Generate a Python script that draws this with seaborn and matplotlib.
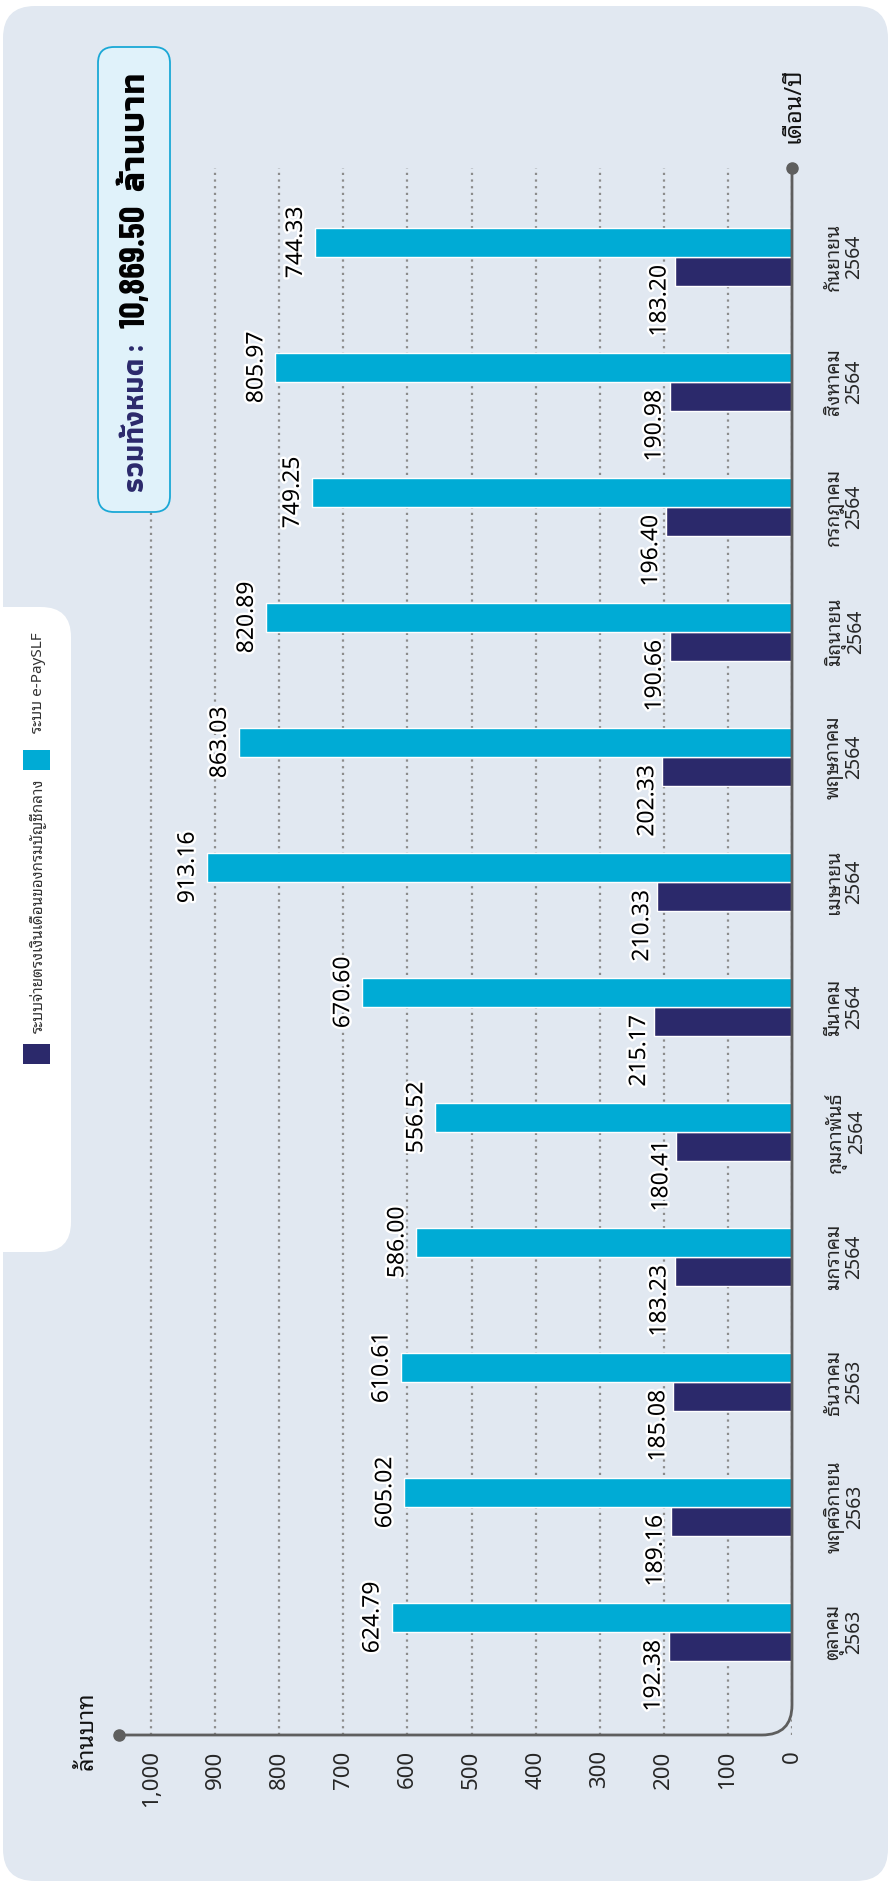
import matplotlib
matplotlib.use('Agg')
import matplotlib.pyplot as plt
import matplotlib.patheffects as pe
import pandas as pd
import seaborn as sns
from matplotlib import font_manager
from matplotlib.patches import FancyBboxPatch, Rectangle, PathPatch
from matplotlib.path import Path

# ข้อมูลรายเดือน (ล้านบาท)
months = ['ตุลาคม', 'พฤศจิกายน', 'ธันวาคม', 'มกราคม', 'กุมภาพันธ์', 'มีนาคม',
          'เมษายน', 'พฤษภาคม', 'มิถุนายน', 'กรกฎาคม', 'สิงหาคม', 'กันยายน']
years = ['2563', '2563', '2563', '2564', '2564', '2564',
         '2564', '2564', '2564', '2564', '2564', '2564']
series = ['ระบบจ่ายตรงเงินเดือนของกรมบัญชีกลาง', 'ระบบ e-PaySLF']
direct_pay = [192.38, 189.16, 185.08, 183.23, 180.41, 215.17,
              210.33, 202.33, 190.66, 196.40, 190.98, 183.20]
epayslf = [624.79, 605.02, 610.61, 586.00, 556.52, 670.60,
           913.16, 863.03, 820.89, 749.25, 805.97, 744.33]
value_ticks = [0, 100, 200, 300, 400, 500, 600, 700, 800, 900, 1000]
colors = ['#2B296B', '#00ABD5']

W, H = 890, 1887
BG = '#E1E8F1'
AXIS = '#5E5E5E'

sns.set_style('white')
avail = {f.name for f in font_manager.fontManager.ttflist}


def pick(*names):
    return [n for n in names if n in avail] + ['DejaVu Sans']


THAI = pick('Noto Sans', 'Noto Sans Thai Looped', 'IBM Plex Sans Thai Looped',
            'Sarabun', 'Noto Sans Thai')
TITLE = pick('Barlow Condensed', 'Roboto Condensed', 'Noto Sans Thai Condensed',
             'Athiti', 'Kanit', 'Noto Sans Thai')
plt.rcParams['font.family'] = THAI

cats = [m + '\n' + y for m, y in zip(months, years)]
df = pd.DataFrame({
    'cat': cats * 2,
    'value': direct_pay + epayslf,
    'series': [series[0]] * len(cats) + [series[1]] * len(cats),
})

fig = plt.figure(figsize=(W / 100, H / 100), dpi=100, facecolor='white')
inch_tr = fig.dpi_scale_trans


def inch(x, y):
    # พิกัดพิกเซล (บนลงล่าง) -> นิ้ว
    return (x / 100, (H - y) / 100)


# พื้นหลังการ์ด
fig.add_artist(FancyBboxPatch(inch(3, 1881), 8.85, 18.75,
                              boxstyle='round,pad=0,rounding_size=0.32',
                              transform=inch_tr, facecolor=BG,
                              edgecolor='none', zorder=-5))

ax = fig.add_axes([119 / W, (H - 1735) / H, (792 - 119) / W, (1735 - 168) / H])
ax.set_facecolor('none')

sns.barplot(data=df, y='cat', x='value', hue='series', hue_order=series,
            order=cats, orient='h', palette=colors, width=0.47, saturation=1,
            legend=False, ax=ax)

ax.set_xlim(1050, 0)
ax.set_ylim(-0.824, 11.712)
for s in ax.spines.values():
    s.set_visible(False)
ax.set_xlabel('')
ax.set_ylabel('')

ax.set_axisbelow(True)
ax.xaxis.grid(True, color='#8C8C8C', linestyle=(0, (1, 2)), linewidth=1.6)
ax.yaxis.grid(False)

ax.set_xticks(value_ticks)
ax.set_xticklabels([f'{t:,}' for t in value_ticks], rotation=90, ha='center',
                   va='top', fontsize=16)
ax.tick_params(axis='x', length=0, pad=11)

ax.yaxis.tick_right()
ax.set_yticks(range(len(cats)))
ax.set_yticklabels(cats, rotation=90, ha='left', va='center',
                   multialignment='center', linespacing=1.0, fontsize=14)
ax.tick_params(axis='y', length=0, pad=23)

# เส้นแกนมุมโค้ง
rx, ry = 30 / 673, 30 / 1567
axis_path = Path([(0, 0), (1 - rx, 0), (1, 0), (1, ry), (1, 1)],
                 [Path.MOVETO, Path.LINETO, Path.CURVE3, Path.CURVE3, Path.LINETO])
ax.add_patch(PathPatch(axis_path, transform=ax.transAxes, fill=False,
                       edgecolor=AXIS, linewidth=2, clip_on=False, zorder=4))
ax.plot([0, 1], [0, 1], 'o', color=AXIS, markersize=8, transform=ax.transAxes,
        clip_on=False, zorder=5)

# ป้ายค่าบนแท่ง
halo = [pe.withStroke(linewidth=3.5, foreground='white')]
offsets = [(-15, -29), (-19, 0)]
for cont, off in zip(ax.containers, offsets):
    for bar in cont:
        v = bar.get_width()
        yc = bar.get_y() + bar.get_height() / 2
        ax.annotate(f'{v:.2f}', xy=(v, yc), xytext=off, textcoords='offset pixels',
                    rotation=90, ha='center', va='center', fontsize=16.5,
                    color='black', path_effects=halo, zorder=6)

# ชื่อแกน
fig.text(*inch(87, 1731), 'ล้านบาท', rotation=90, ha='center', va='center',
         fontsize=17, color='#111111', transform=inch_tr)
fig.text(*inch(793, 105), 'เดือน/ปี', rotation=90, ha='center', va='center',
         fontsize=17, fontweight='bold', color='#111111', transform=inch_tr)

# คำอธิบายสัญลักษณ์
fig.add_artist(FancyBboxPatch(inch(-40, 1252), 1.11, 6.45,
                              boxstyle='round,pad=0,rounding_size=0.3',
                              transform=inch_tr, facecolor='white',
                              edgecolor='none', zorder=1))
legend_y = [(1064, 1033), (770, 733)]
for name, col, (sq_y, txt_y) in zip(series, colors, legend_y):
    fig.add_artist(Rectangle(inch(23, sq_y), 0.27, 0.20, facecolor=col,
                             edgecolor='none', transform=inch_tr, zorder=2))
    fig.text(*inch(38, txt_y), name, rotation=90, ha='center', va='bottom',
             fontsize=11, color='#333333', transform=inch_tr, zorder=3)

# กล่องยอดรวม
total = sum(direct_pay) + sum(epayslf)
fig.add_artist(FancyBboxPatch(inch(98, 512), 0.72, 4.65,
                              boxstyle='round,pad=0,rounding_size=0.16',
                              transform=inch_tr, facecolor='#E0F2FA',
                              edgecolor='#1AA8D6', linewidth=1.3, zorder=5))
fig.text(*inch(136, 492), 'รวมทั้งหมด :', rotation=90, ha='center', va='bottom',
         fontsize=21, fontweight='bold', color='#2B296B', family=TITLE,
         transform=inch_tr, zorder=6)
fig.text(*inch(136, 72), f'{total:,.2f}  ล้านบาท', rotation=90, ha='center',
         va='top', fontsize=26, fontweight='bold', color='black', family=TITLE,
         transform=inch_tr, zorder=6)

fig.savefig('out.png', dpi=100, facecolor='white')
